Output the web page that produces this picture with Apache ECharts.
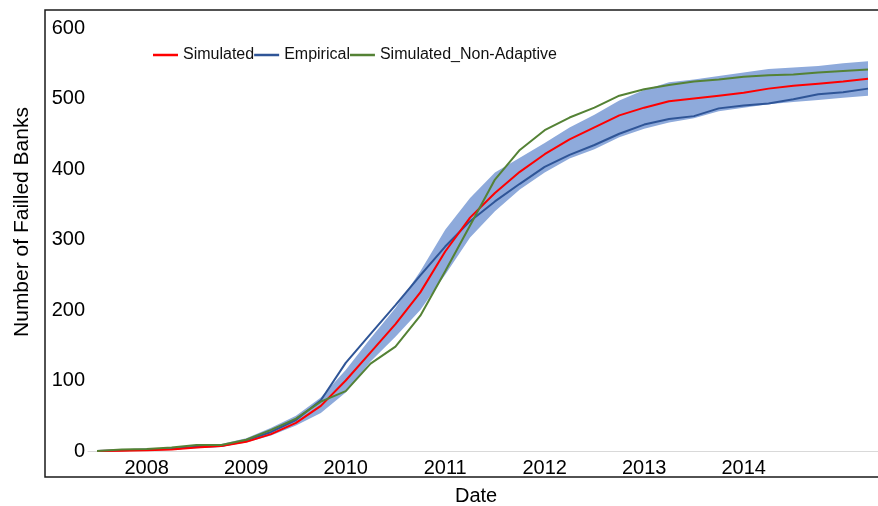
<!DOCTYPE html>
<html>
<head>
<meta charset="utf-8">
<script src="https://cdn.jsdelivr.net/npm/echarts@6/dist/echarts.min.js"></script>
<style>
  html, body { margin: 0; padding: 0; background: #fff; }
  #chart { width: 878px; height: 506px; }
</style>
</head>
<body>
<div id="chart"></div>
<script>
// Quarterly observations (index 0..31)
const quarters = [
  '2007Q1','2007Q2','2007Q3','2007Q4','2008Q1','2008Q2','2008Q3','2008Q4',
  '2009Q1','2009Q2','2009Q3','2009Q4','2010Q1','2010Q2','2010Q3','2010Q4',
  '2011Q1','2011Q2','2011Q3','2011Q4','2012Q1','2012Q2','2012Q3','2012Q4',
  '2013Q1','2013Q2','2013Q3','2013Q4','2014Q1','2014Q2','2014Q3','2014Q4'
];
// Year tick labels and the category index where each is shown
const yearLabels = ['2008','2009','2010','2011','2012','2013','2014'];
const yearLabelIndex = [2, 6, 10, 14, 18, 22, 26];

const simulated = [0, 0.5, 1, 2, 5, 7, 13, 24, 40, 64, 100, 140, 180, 225, 283, 331,
                   366, 396, 421, 442, 459, 476, 487, 496, 500, 504, 508, 514, 518, 521, 524, 528];
const empirical = [0, 1, 2, 3, 6, 7, 15, 27, 44, 72, 125, 166, 207, 249, 290, 326,
                   354, 379, 403, 420, 434, 450, 463, 471, 475, 486, 490, 493, 499, 506, 509, 514];
const nonAdaptive = [0, 2, 3, 5, 8.5, 8.5, 16, 30, 46, 70, 85, 124, 148, 192, 255, 320,
                     385, 427, 455, 473, 487, 504, 513, 519, 524, 527, 531, 533, 534, 537, 539, 541];
const bandLower = [0, 0.5, 1, 2, 4, 6, 12, 22, 36, 54, 83, 127, 162, 200, 250, 303,
                   340, 371, 395, 415, 428, 445, 457, 466, 472, 482, 487, 492, 495, 498, 501, 504];
const bandUpper = [0, 2, 3, 5, 9, 10, 18, 33, 50, 76, 115, 160, 203, 255, 314, 359,
                   395, 416, 437, 459, 477, 497, 512, 523, 527, 532, 537, 542, 544, 546, 550, 553];

const pairs = arr => arr.map((v, i) => [i, v]);

const FONT = "'Liberation Sans', Arial, sans-serif";
const chart = echarts.init(document.getElementById('chart'), null, { renderer: 'canvas' });

chart.setOption({
  animation: false,
  backgroundColor: '#ffffff',
  grid: { left: 88, right: 0, top: 28, bottom: 55, containLabel: false },
  legend: {
    data: ['Simulated', 'Empirical', 'Simulated_Non-Adaptive'],
    left: 148, top: 42,
    icon: 'rect', itemWidth: 25, itemHeight: 2.5, itemGap: 0,
    textStyle: { fontFamily: FONT, fontSize: 16, color: '#111' }
  },
  xAxis: {
    type: 'value',
    min: -0.3619, max: 31.402,
    axisLine: { show: true, lineStyle: { color: '#d9d9d9', width: 1 } },
    axisTick: { show: false },
    splitLine: { show: false },
    axisLabel: {
      customValues: yearLabelIndex,
      formatter: v => yearLabels[yearLabelIndex.indexOf(Math.round(v))] || '',
      margin: 7,
      fontFamily: FONT, fontSize: 20, color: '#000'
    }
  },
  yAxis: {
    type: 'value',
    min: 0, max: 600, interval: 100,
    axisLine: { show: false },
    axisTick: { show: false },
    splitLine: { show: false },
    axisLabel: { margin: 3, fontFamily: FONT, fontSize: 20, color: '#000' }
  },
  series: [
    {
      name: 'band', type: 'custom', silent: true, z: 1,
      data: [0],
      renderItem: (params, api) => {
        const upperPts = bandUpper.map((v, i) => api.coord([i, v]));
        const lowerPts = bandLower.map((v, i) => api.coord([i, v])).reverse();
        return {
          type: 'polygon',
          shape: { points: upperPts.concat(lowerPts) },
          style: { fill: '#8eaadb', stroke: 'none' }
        };
      }
    },
    {
      name: 'Empirical', type: 'line', data: pairs(empirical), showSymbol: false,
      color: '#2f5597', lineStyle: { color: '#2f5597', width: 2 }, z: 3
    },
    {
      name: 'Simulated', type: 'line', data: pairs(simulated), showSymbol: false,
      color: '#ff0000', lineStyle: { color: '#ff0000', width: 2 }, z: 4
    },
    {
      name: 'Simulated_Non-Adaptive', type: 'line', data: pairs(nonAdaptive), showSymbol: false,
      color: '#548235', lineStyle: { color: '#548235', width: 2 }, z: 5
    }
  ],
  graphic: [
    {
      type: 'rect', z: 100, silent: true,
      shape: { x: 45, y: 10, width: 900, height: 467 },
      style: { fill: 'none', stroke: '#1a1a1a', lineWidth: 1.5 }
    },
    {
      type: 'text', left: 455, top: 486, silent: true,
      style: { text: 'Date', fontFamily: FONT, fontSize: 20, fill: '#000' }
    },
    {
      type: 'text', silent: true, x: 22, y: 222, rotation: Math.PI / 2,
      style: {
        text: 'Number of Failled Banks', fontFamily: FONT, fontSize: 21, fill: '#000',
        align: 'center', verticalAlign: 'middle'
      }
    }
  ]
});
</script>
</body>
</html>
